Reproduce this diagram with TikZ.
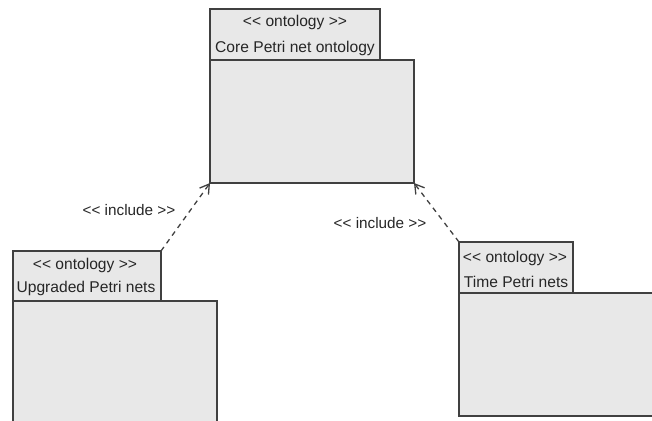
\documentclass[tikz,border=0pt]{standalone}
\usepackage{fontspec}
% plain family without TeX ligatures, so that << stays as two characters
\newfontfamily\umlfont{Liberation Sans}
\usetikzlibrary{arrows.meta}
\begin{document}
\begin{tikzpicture}[x=1pt,y=-1pt,
  pkgpart/.style={draw=black!75, fill=black!9, line width=1.2pt, inner sep=0pt, outer sep=0pt, anchor=north west},
  pkgtext/.style={text=black!85, font=\umlfont\fontsize{15.6}{17}\selectfont, align=center},
  incl/.style={draw=black!75, line width=1.3pt, dash pattern=on 5pt off 4.5pt, -{Straight Barb[length=9pt,width=11pt,line width=1.3pt]}},
  incllabel/.style={text=black!85, font=\umlfont\fontsize{15.3}{17}\selectfont}]
\useasboundingbox (0,0) rectangle (652,420);
\clip (0,0) rectangle (652,420);

% Core Petri net ontology package
\node[pkgpart, minimum width=170pt, minimum height=51pt] (coreTab) at (210,9) {};
\node[pkgpart, minimum width=204pt, minimum height=123pt] (coreBody) at (210,60) {};
\node[pkgtext] at (295,22) {<< ontology >>};
\node[pkgtext] at (295,48) {Core Petri net ontology};

% Upgraded Petri nets package
\node[pkgpart, minimum width=148pt, minimum height=50pt] (upTab) at (13,251) {};
\node[pkgpart, minimum width=204pt, minimum height=130pt] (upBody) at (13,301) {};
\node[pkgtext] at (85,265) {<< ontology >>};
\node[pkgtext] at (86,288) {Upgraded Petri nets};

% Time Petri nets package
\node[pkgpart, minimum width=114pt, minimum height=51pt] (timeTab) at (459,242) {};
\node[pkgpart, minimum width=204pt, minimum height=123pt] (timeBody) at (459,293) {};
\node[pkgtext] at (515,258) {<< ontology >>};
\node[pkgtext] at (516,282) {Time Petri nets};

% include dependencies
\draw[incl] (upTab.north east) -- (coreBody.south west);
\draw[incl] (timeTab.north west) -- (coreBody.south east);
\node[incllabel] at (129,210) {<< include >>};
\node[incllabel] at (380,223) {<< include >>};
\end{tikzpicture}
\end{document}
